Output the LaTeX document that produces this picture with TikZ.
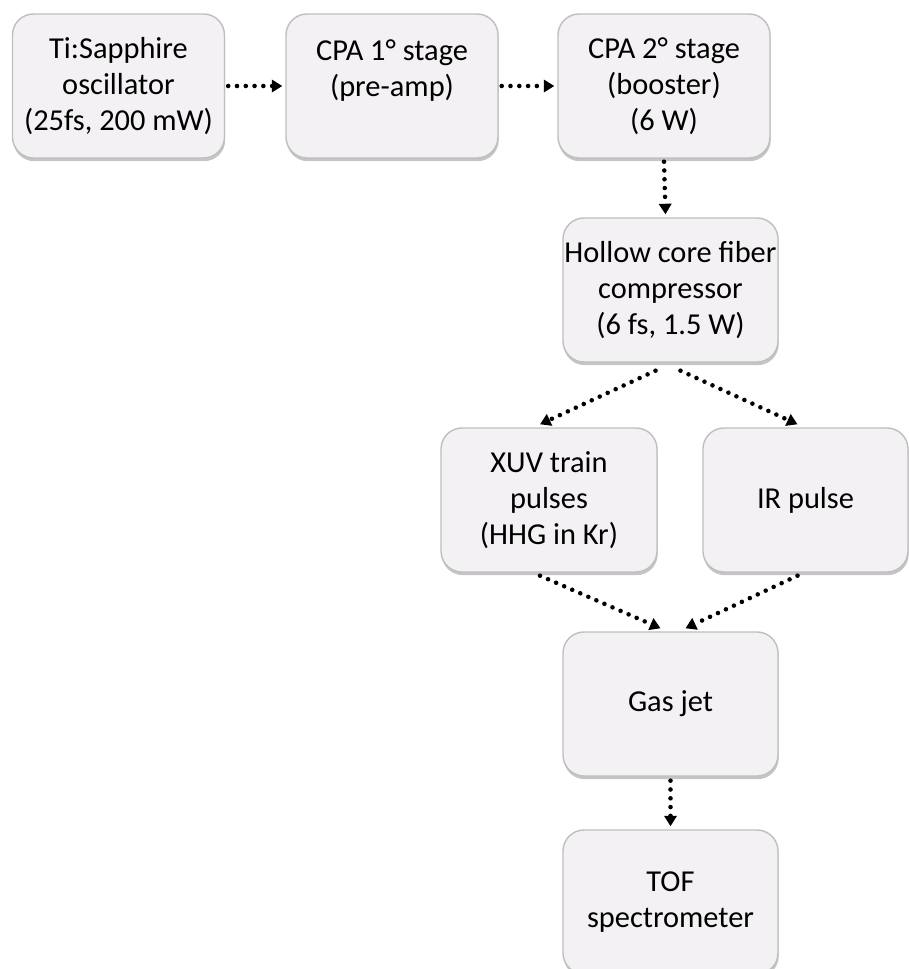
\documentclass[tikz,border=0pt]{standalone}
\usepackage{fontspec}
\setmainfont{Carlito}
\usetikzlibrary{arrows.meta,calc,shadows}
\definecolor{boxfill}{RGB}{243,241,243}

\begin{document}
\begin{tikzpicture}[box/.style={draw=gray!50,line width=.8pt,fill=boxfill,rounded corners=.42cm,minimum width=4.24cm,minimum height=2.88cm,align=center,inner sep=0pt,font=\fontsize{17.3}{20.5}\selectfont,drop shadow={shadow xshift=.4pt,shadow yshift=-1.8pt,opacity=.6,fill=gray!75}},arr/.style={line width=2.6pt,line cap=round,dash pattern=on 0pt off 5pt,-{Triangle[length=6pt,width=7pt]}}]
\useasboundingbox(0,0)rectangle(18.16,-19.38);
\node[box](osc)at(2.37,-1.72){Ti:Sapphire\\oscillator\\(25fs, 200 mW)};
\node[box](cpa1)at(7.84,-1.72){CPA 1° stage\\(pre-amp)\\\mbox{}};
\node[box](cpa2)at(13.28,-1.72){CPA 2° stage\\(booster)\\(6 W)};
\node[box,minimum width=4.3cm](hcf)at(13.41,-5.8){Hollow core fiber\\compressor\\(6 fs, 1.5 W)};
\node[box,minimum width=4.32cm](xuv)at(10.98,-10){XUV train\\pulses\\(HHG in Kr)};
\node[box,minimum width=4.1cm](ir)at(16.11,-10){IR pulse};
\node[box,minimum width=4.3cm](jet)at(13.41,-14.08){Gas jet};
\node[box,minimum width=4.3cm](tof)at(13.41,-18.04){TOF\\spectrometer};
\draw[arr]($(osc.east)+(.06,0)$)--($(cpa1.west)-(.06,0)$);\draw[arr]($(cpa1.east)+(.06,0)$)--($(cpa2.west)-(.06,0)$);
\draw[arr]($(cpa2.south)+(0,-.06)$)--($(hcf.north)+(-.1,.06)$);
\draw[arr]($(hcf.south)+(-.3,-.16)$)--($(xuv.north)+(-.18,.06)$);\draw[arr]($(hcf.south)+(.2,-.16)$)--($(ir.north)+(-.16,.06)$);
\draw[arr]($(xuv.south)+(-.18,-.06)$)--($(jet.north)+(-.2,.06)$);\draw[arr]($(ir.south)+(-.16,-.06)$)--($(jet.north)+(.3,.06)$);
\draw[arr]($(jet.south)+(0,-.08)$)--($(tof.north)+(0,.06)$);
\end{tikzpicture}
\end{document}
